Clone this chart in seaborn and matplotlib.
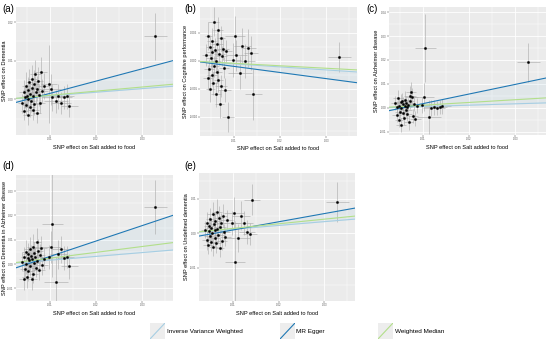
import numpy as np
import pandas as pd
import matplotlib
matplotlib.use("Agg")
import matplotlib.pyplot as plt
from matplotlib.ticker import FixedLocator, AutoMinorLocator
import seaborn as sns

# ---------------- data ----------------
# SNP effect on exposure (Salt added to food), shared by all panels
snp_x = [0.0040, 0.0043, 0.0044, 0.0046, 0.0047, 0.0048, 0.0050, 0.0051, 0.0052, 0.0053,
         0.0055, 0.0056, 0.0057, 0.0058, 0.0060, 0.0061, 0.0062, 0.0064, 0.0065, 0.0066,
         0.0068, 0.0069, 0.0071, 0.0072, 0.0074, 0.0076, 0.0078, 0.0080, 0.0083, 0.0087,
         0.0098, 0.0102, 0.0105, 0.0112, 0.0118, 0.0124, 0.0131, 0.0137, 0.0142, 0.0328]
snp_xse = [0.0009, 0.0010, 0.0008, 0.0011, 0.0009, 0.0010, 0.0012, 0.0009, 0.0010, 0.0011,
           0.0008, 0.0012, 0.0010, 0.0009, 0.0011, 0.0010, 0.0013, 0.0009, 0.0011, 0.0010,
           0.0012, 0.0010, 0.0009, 0.0013, 0.0011, 0.0012, 0.0010, 0.0014, 0.0012, 0.0013,
           0.0018, 0.0022, 0.0022, 0.0026, 0.0019, 0.0021, 0.0017, 0.0015, 0.0018, 0.0025]

# (a) Dementia
a_y = [-0.0010, 0.0020, -0.0030, 0.0005, 0.0035, -0.0015, 0.0010, -0.0040, 0.0025, 0.0000,
       0.0045, -0.0020, 0.0015, -0.0005, 0.0030, 0.0052, -0.0028, 0.0008, 0.0040, -0.0012,
       0.0065, 0.0018, -0.0035, 0.0028, 0.0048, 0.0012, -0.0008, 0.0070, 0.0022, 0.0035,
       0.0040, 0.0026, 0.0005, -0.0005, 0.0008, -0.0010, 0.0005, 0.0008, -0.0016, 0.0163]
a_se = [0.0025, 0.0030, 0.0022, 0.0028, 0.0035, 0.0024, 0.0030, 0.0026, 0.0032, 0.0028,
        0.0034, 0.0025, 0.0030, 0.0027, 0.0033, 0.0036, 0.0026, 0.0029, 0.0035, 0.0028,
        0.0038, 0.0030, 0.0027, 0.0032, 0.0036, 0.0029, 0.0028, 0.0040, 0.0031, 0.0033,
        0.0100, 0.0040, 0.0035, 0.0030, 0.0032, 0.0028, 0.0030, 0.0033, 0.0030, 0.0060]

# (b) Cognitive performance
b_y = [0.0010, -0.0030, 0.0045, -0.0015, 0.0025, -0.0050, 0.0005, 0.0035, -0.0025, 0.0015,
       -0.0040, 0.0070, -0.0010, 0.0020, -0.0060, 0.0000, 0.0030, -0.0020, 0.0055, -0.0035,
       0.0012, -0.0077, 0.0040, -0.0045, 0.0008, 0.0022, -0.0012, -0.0052, 0.0018, -0.0100,
       0.0002, 0.0045, 0.0010, -0.0021, 0.0027, 0.0000, 0.0023, 0.0014, -0.0060, 0.0007]
b_se = [0.0020, 0.0022, 0.0025, 0.0018, 0.0021, 0.0024, 0.0019, 0.0023, 0.0020, 0.0022,
        0.0021, 0.0026, 0.0018, 0.0020, 0.0023, 0.0019, 0.0022, 0.0020, 0.0024, 0.0021,
        0.0019, 0.0025, 0.0022, 0.0020, 0.0018, 0.0021, 0.0019, 0.0022, 0.0020, 0.0026,
        0.0030, 0.0035, 0.0028, 0.0030, 0.0032, 0.0030, 0.0034, 0.0030, 0.0045, 0.0027]

# (c) Alzheimer disease
c_y = [0.0020, -0.0030, 0.0005, 0.0040, -0.0050, 0.0010, -0.0015, 0.0025, -0.0070, 0.0000,
       0.0030, -0.0020, 0.0015, -0.0040, 0.0008, 0.0035, -0.0010, 0.0020, -0.0025, 0.0005,
       0.0012, -0.0060, 0.0028, 0.0050, 0.0065, 0.0045, -0.0035, 0.0018, -0.0045, 0.0010,
       0.0012, 0.0046, 0.0250, -0.0038, 0.0000, 0.0002, 0.0000, 0.0004, 0.0006, 0.0190]
c_se = [0.0030, 0.0028, 0.0025, 0.0035, 0.0030, 0.0028, 0.0026, 0.0032, 0.0030, 0.0027,
        0.0033, 0.0028, 0.0030, 0.0031, 0.0027, 0.0036, 0.0028, 0.0030, 0.0029, 0.0026,
        0.0030, 0.0032, 0.0033, 0.0040, 0.0045, 0.0038, 0.0030, 0.0032, 0.0031, 0.0030,
        0.0035, 0.0060, 0.0140, 0.0070, 0.0035, 0.0032, 0.0030, 0.0030, 0.0032, 0.0080]

# (d) Dementia in Alzheimer disease
d_y = [0.0010, -0.0060, 0.0030, -0.0020, 0.0050, 0.0000, -0.0055, 0.0025, 0.0040, -0.0030,
       0.0015, 0.0060, -0.0010, 0.0035, -0.0062, 0.0020, 0.0070, -0.0040, 0.0005, 0.0045,
       0.0028, -0.0015, 0.0090, 0.0012, 0.0055, -0.0025, 0.0038, 0.0065, -0.0005, 0.0022,
       0.0030, 0.0070, 0.0165, -0.0072, 0.0040, 0.0060, 0.0025, 0.0029, -0.0010, 0.0235]
d_se = [0.0040, 0.0045, 0.0042, 0.0038, 0.0050, 0.0040, 0.0044, 0.0041, 0.0046, 0.0039,
        0.0042, 0.0050, 0.0038, 0.0045, 0.0043, 0.0041, 0.0055, 0.0040, 0.0039, 0.0047,
        0.0042, 0.0040, 0.0060, 0.0041, 0.0048, 0.0040, 0.0045, 0.0052, 0.0039, 0.0043,
        0.0050, 0.0065, 0.0220, 0.0100, 0.0060, 0.0055, 0.0050, 0.0045, 0.0050, 0.0110]

# (e) Undefined dementia
e_y = [0.0010, -0.0020, 0.0030, -0.0035, 0.0005, 0.0020, -0.0010, 0.0040, -0.0025, 0.0015,
       0.0000, 0.0055, -0.0040, 0.0025, -0.0015, 0.0035, 0.0008, -0.0030, 0.0062, 0.0012,
       -0.0005, 0.0045, -0.0042, 0.0018, 0.0028, -0.0022, 0.0050, 0.0003, -0.0012, 0.0038,
       0.0030, 0.0058, -0.0084, -0.0015, 0.0050, 0.0030, 0.0004, -0.0002, 0.0096, 0.0090]
e_se = [0.0025, 0.0028, 0.0030, 0.0026, 0.0024, 0.0027, 0.0025, 0.0032, 0.0027, 0.0026,
        0.0024, 0.0035, 0.0028, 0.0027, 0.0025, 0.0030, 0.0024, 0.0027, 0.0036, 0.0025,
        0.0024, 0.0032, 0.0028, 0.0026, 0.0029, 0.0027, 0.0033, 0.0024, 0.0026, 0.0030,
        0.0035, 0.0045, 0.0120, 0.0040, 0.0042, 0.0035, 0.0035, 0.0032, 0.0045, 0.0057]

# MR estimates: (intercept, slope) per method per panel
ivw_slope = [0.093, -0.054, 0.057, 0.157, 0.110]
egger_int = [-0.0016, 0.0001, -0.0022, -0.0032, -0.0015]
egger_slope = [0.317, -0.109, 0.400, 0.633, 0.238]
wm_slope = [0.107, -0.044, 0.114, 0.240, 0.134]

panel_tags = ["(a)", "(b)", "(c)", "(d)", "(e)"]
outcomes = ["SNP effect on Dementia", "SNP effect on Cognitive performance",
            "SNP effect on Alzheimer disease", "SNP effect on Dementia in Alzheimer disease",
            "SNP effect on Undefined dementia"]
x_label = "SNP effect on Salt added to food"
x_ticks = [0.01, 0.02, 0.03]
x_ticklabels = ["0.01", "0.02", "0.03"]
y_ticks = [[0.00, 0.01, 0.02], [-0.010, -0.005, 0.000, 0.005],
           [-0.01, 0.00, 0.01, 0.02, 0.03, 0.04], [-0.01, 0.00, 0.01, 0.02, 0.03],
           [-0.01, 0.00, 0.01]]
y_ticklabels = [["0.00", "0.01", "0.02"], ["-0.010", "-0.005", "0.000", "0.005"],
                ["-0.01", "0.00", "0.01", "0.02", "0.03", "0.04"],
                ["-0.01", "0.00", "0.01", "0.02", "0.03"], ["-0.01", "0.00", "0.01"]]
x_lim = (0.0026, 0.0367)
y_lims = [(-0.0092, 0.0239), (-0.0134, 0.0096), (-0.0113, 0.0421),
          (-0.0152, 0.0366), (-0.0197, 0.0174)]
method_names = ["Inverse Variance Weighted", "MR Egger", "Weighted Median"]
method_colors = ["#a6cee3", "#1f78b4", "#b2df8a"]

ys = [a_y, b_y, c_y, d_y, e_y]
ses = [a_se, b_se, c_se, d_se, e_se]

# ---------------- layout (pixels) ----------------
W, H = 546, 340
boxes = [(16, 7, 173, 135), (200, 7, 357, 136), (389, 7, 546, 135),
         (16, 175, 173, 301), (199, 173, 355, 301)]
ylabel_px = [5, 186, 377, 4.5, 187]
tag_pos = [(2, 9), (184, 9), (366, 9), (2, 166), (184, 166)]

sns.set_theme(style="darkgrid")
plt.rcParams['font.family'] = ['Liberation Sans', 'DejaVu Sans']
fig = plt.figure(figsize=(W / 100, H / 100), dpi=100)
fig.patch.set_facecolor("white")

for i in range(5):
    l, t, r, b = boxes[i]
    ax = fig.add_axes([l / W, (H - b) / H, (r - l) / W, (b - t) / H])
    ax.set_facecolor("#EBEBEB")
    df = pd.DataFrame({"x": snp_x, "y": ys[i], "xse": snp_xse, "yse": ses[i]})
    ax.errorbar(df["x"], df["y"], yerr=df["yse"], fmt="none", ecolor="#a8a8a8",
                elinewidth=0.4, capsize=0, zorder=2)
    ax.errorbar(df["x"], df["y"], xerr=df["xse"], fmt="none", ecolor="#a8a8a8",
                elinewidth=0.4, capsize=0, zorder=2)
    # CI-like band between IVW and Egger
    xx = np.linspace(x_lim[0], x_lim[1], 50)
    ax.fill_between(xx, ivw_slope[i] * xx, egger_int[i] + egger_slope[i] * xx,
                    color="#a6cee3", alpha=0.15, lw=0, zorder=1)
    sns.scatterplot(data=df, x="x", y="y", ax=ax, color="black", s=3,
                    edgecolor="black", linewidth=0.2, zorder=4)
    ax.axline((0, 0), slope=ivw_slope[i], color=method_colors[0], lw=0.8, zorder=3)
    ax.axline((0, egger_int[i]), slope=egger_slope[i], color=method_colors[1], lw=0.8, zorder=3)
    ax.axline((0, 0), slope=wm_slope[i], color=method_colors[2], lw=0.8, zorder=3)
    ax.set_xlim(*x_lim)
    ax.set_ylim(*y_lims[i])
    ax.xaxis.set_major_locator(FixedLocator(x_ticks))
    ax.set_xticklabels(x_ticklabels)
    ax.yaxis.set_major_locator(FixedLocator(y_ticks[i]))
    ax.set_yticklabels(y_ticklabels[i])
    ax.xaxis.set_minor_locator(AutoMinorLocator(2))
    ax.yaxis.set_minor_locator(AutoMinorLocator(2))
    ax.grid(which="major", color="white", lw=0.6)
    ax.grid(which="minor", color="white", lw=0.3)
    ax.tick_params(which="major", length=1.2, width=0.3, color="#333333",
                   labelsize=2.0, labelcolor="#4D4D4D", pad=0.6, bottom=True, left=True)
    ax.tick_params(which="minor", length=0)
    for s in ax.spines.values():
        s.set_visible(False)
    ax.set_xlabel(x_label, fontsize=4.1, labelpad=2.5, color="black")
    ax.set_ylabel(outcomes[i], fontsize=4.1, color="black")
    ax.yaxis.label.set_verticalalignment("center")
    ax.yaxis.set_label_coords((ylabel_px[i] - l) / (r - l), 0.5)
    fig.text(tag_pos[i][0] / W, 1 - tag_pos[i][1] / H, panel_tags[i], fontsize=7,
             va="center", ha="left", color="black")

# legend keys
key_x = [150, 280, 378]
text_x = [167, 296, 395]
for k in range(3):
    kax = fig.add_axes([key_x[k] / W, (H - 339) / H, 15 / W, 16 / H])
    kax.set_facecolor("#EDEDED")
    kax.plot([0, 1], [0, 1], color=method_colors[k], lw=0.8)
    kax.set_xlim(0, 1)
    kax.set_ylim(0, 1)
    kax.set_xticks([])
    kax.set_yticks([])
    kax.grid(False)
    for s in kax.spines.values():
        s.set_visible(False)
    fig.text(text_x[k] / W, 1 - 332 / H, method_names[k], fontsize=4.6,
             va="center", ha="left", color="black")

fig.savefig("out.png", dpi=100, facecolor="white")
